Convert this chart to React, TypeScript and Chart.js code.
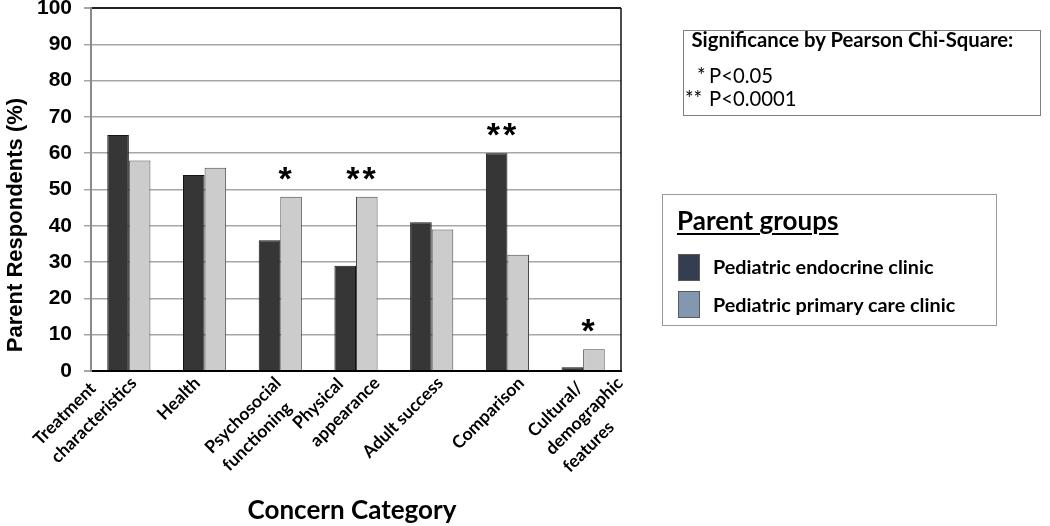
import React, { useEffect, useRef } from 'react';
import { Chart, registerables } from 'chart.js';

Chart.register(...registerables);

const categories: string[][] = [
  ['Treatment', 'characteristics'],
  ['Health'],
  ['Psychosocial', 'functioning'],
  ['Physical', 'appearance'],
  ['Adult success'],
  ['Comparison'],
  ['Cultural/', 'demographic', 'features'],
];
const endocrineClinic = [65, 54, 36, 29, 41, 60, 1];
const primaryCareClinic = [58, 56, 48, 48, 39, 32, 6];
const significance = ['', '', '*', '**', '', '**', '*'];
const yMin = 0;
const yMax = 100;
const yStep = 10;

const seriesNames = ['Pediatric endocrine clinic', 'Pediatric primary care clinic'];
const legendColors = ['#333f50', '#8497b0'];

const CAL = "Lato, 'Open Sans', sans-serif";
const ARIAL = "'Liberation Sans', Arial, sans-serif";

const overlayPlugin = {
  id: 'overlay',
  afterDraw(chart: any) {
    const ctx = chart.ctx;
    const area = chart.chartArea;
    const xs = chart.scales.x;
    const ys = chart.scales.y;
    ctx.save();
    // right border
    ctx.strokeStyle = '#111';
    ctx.lineWidth = 1.5;
    ctx.beginPath();
    ctx.moveTo(area.right, area.top);
    ctx.lineTo(area.right, area.bottom);
    ctx.stroke();

    // significance asterisks
    ctx.fillStyle = '#000';
    ctx.font = `bold 34px ${ARIAL}`;
    ctx.textAlign = 'center';
    ctx.textBaseline = 'alphabetic';
    (ctx as any).letterSpacing = '3px';
    significance.forEach((s, i) => {
      if (!s) return;
      const a = endocrineClinic[i];
      const b = primaryCareClinic[i];
      const m0 = chart.getDatasetMeta(0).data[i];
      const m1 = chart.getDatasetMeta(1).data[i];
      const top = a >= b ? m0 : m1;
      const cx = (xs.getPixelForValue(i) + top.x) / 2 + 1;
      const yTop = ys.getPixelForValue(Math.max(a, b));
      ctx.fillText(s, cx, yTop - 26 + 19);
    });
    (ctx as any).letterSpacing = '0px';

    // x category labels, rotated -45deg, lines left-aligned
    ctx.font = `bold 17.5px ${CAL}`;
    ctx.textAlign = 'left';
    ctx.textBaseline = 'top';
    const lh = 25;
    const r = Math.SQRT1_2;
    const mid = (area.left + area.right) / 2;
    const spread = 1.07;
    categories.forEach((lines, i) => {
      const cx = mid + (xs.getPixelForValue(i) - mid) * spread;
      const widths = lines.map((l) => ctx.measureText(l).width);
      const W = Math.max(...widths);
      let topY = Infinity;
      widths.forEach((w, j) => {
        topY = Math.min(topY, r * (j * lh - w));
      });
      ctx.save();
      ctx.translate(cx - 3 - r * W, area.bottom + 3 - topY);
      ctx.rotate(-Math.PI / 4);
      lines.forEach((l, j) => ctx.fillText(l, 0, j * lh));
      ctx.restore();
    });

    // x title
    ctx.font = `bold 26px ${CAL}`;
    ctx.textAlign = 'center';
    ctx.textBaseline = 'alphabetic';
    ctx.fillText('Concern Category', (area.left + area.right) / 2 - 4, 519);

    // y title
    ctx.font = `bold 22px ${ARIAL}`;
    ctx.save();
    ctx.translate(22, 225);
    ctx.rotate(-Math.PI / 2);
    ctx.fillText('Parent Respondents (%)', 0, 0);
    ctx.restore();
    ctx.restore();
  },
};

function ChartCanvas() {
  const ref = useRef<HTMLCanvasElement | null>(null);
  useEffect(() => {
    if (!ref.current) return;
    const chart = new Chart(ref.current, {
      type: 'bar',
      data: {
        labels: categories.map((c) => c.join(' ')),
        datasets: [
          {
            label: seriesNames[0],
            data: endocrineClinic,
            backgroundColor: '#363636',
            borderColor: '#141414',
            borderWidth: 1,
            categoryPercentage: 0.57,
            barPercentage: 1.0,
          },
          {
            label: seriesNames[1],
            data: primaryCareClinic,
            backgroundColor: '#cccccc',
            borderColor: '#4a4a4a',
            borderWidth: 1,
            categoryPercentage: 0.57,
            barPercentage: 1.0,
          },
        ],
      },
      options: {
        responsive: false,
        animation: false,
        devicePixelRatio: 1,
        layout: { padding: { left: 0, top: 8, right: 429, bottom: 0 } },
        plugins: { legend: { display: false }, tooltip: { enabled: false } },
        scales: {
          x: {
            grid: { display: false },
            border: { display: true, color: '#000', width: 2 },
            ticks: { display: false },
            afterFit: (s: any) => {
              s.height = 155;
              s.paddingLeft = 0;
              s.paddingRight = 0;
            },
          },
          y: {
            min: yMin,
            max: yMax,
            ticks: {
              stepSize: yStep,
              color: '#000',
              font: { family: ARIAL, size: 21, weight: 'bold' },
              padding: 12,
            },
            grid: {
              color: (c: any) => (c.tick && c.tick.value === yMax ? '#222' : c.tick && c.tick.value === yMin ? '#000' : '#a6a6a6'),
              lineWidth: (c: any) => (c.tick && (c.tick.value === yMax || c.tick.value === yMin) ? 2 : 1.5),
              tickColor: '#a6a6a6',
              tickLength: 7,
            },
            border: { display: true, color: '#8a8a8a', width: 2 },
            afterFit: (s: any) => {
              s.width = 91;
              s.paddingTop = 0;
              s.paddingBottom = 0;
            },
          },
        },
      },
      plugins: [overlayPlugin],
    } as any);
    return () => chart.destroy();
  }, []);
  return <canvas ref={ref} width={1050} height={526} style={{ position: 'absolute', left: 0, top: 0 }} />;
}

export default function App() {
  const txt = (size: number, bold: boolean): React.CSSProperties => ({
    position: 'absolute',
    fontFamily: CAL,
    fontSize: size,
    fontWeight: bold ? 700 : 400,
    lineHeight: 1,
    whiteSpace: 'nowrap',
    color: '#000',
  });
  const sig = 20.3;
  const leg = 19.8;
  return (
    <div style={{ position: 'fixed', left: 0, top: 0, width: 1050, height: 526, background: '#fff', overflow: 'hidden' }}>
      <ChartCanvas />
      <div style={{ position: 'absolute', left: 683, top: 30, width: 358, height: 86, border: '1px solid #7f7f7f', boxSizing: 'border-box' }} />
      <div style={{ ...txt(sig, true), left: 691.5, top: 47 - 0.87 * sig }}>Significance by Pearson Chi-Square:</div>
      <div style={{ ...txt(sig, false), left: 697, top: 83 - 0.87 * sig }}>*</div>
      <div style={{ ...txt(sig, false), left: 709, top: 83 - 0.87 * sig }}>P&lt;0.05</div>
      <div style={{ ...txt(sig, false), left: 685, top: 106 - 0.87 * sig }}>**</div>
      <div style={{ ...txt(sig, false), left: 709, top: 106 - 0.87 * sig }}>P&lt;0.0001</div>

      <div style={{ position: 'absolute', left: 662, top: 194, width: 335, height: 132, border: '1px solid #9a9a9a', boxSizing: 'border-box' }} />
      <div style={{ ...txt(26, true), left: 677, top: 230 - 22.6, textDecoration: 'underline', textDecorationThickness: 2, textUnderlineOffset: 3 }}>Parent groups</div>
      {seriesNames.map((n, i) => (
        <React.Fragment key={n}>
          <div style={{ position: 'absolute', left: 678, top: 254 + i * 37, width: 22, height: 27, background: legendColors[i], border: '1px solid #5a5a5a', boxSizing: 'border-box' }} />
          <div style={{ ...txt(leg, true), left: 713, top: 274.5 + i * 37.5 - 0.87 * leg }}>{n}</div>
        </React.Fragment>
      ))}
    </div>
  );
}
